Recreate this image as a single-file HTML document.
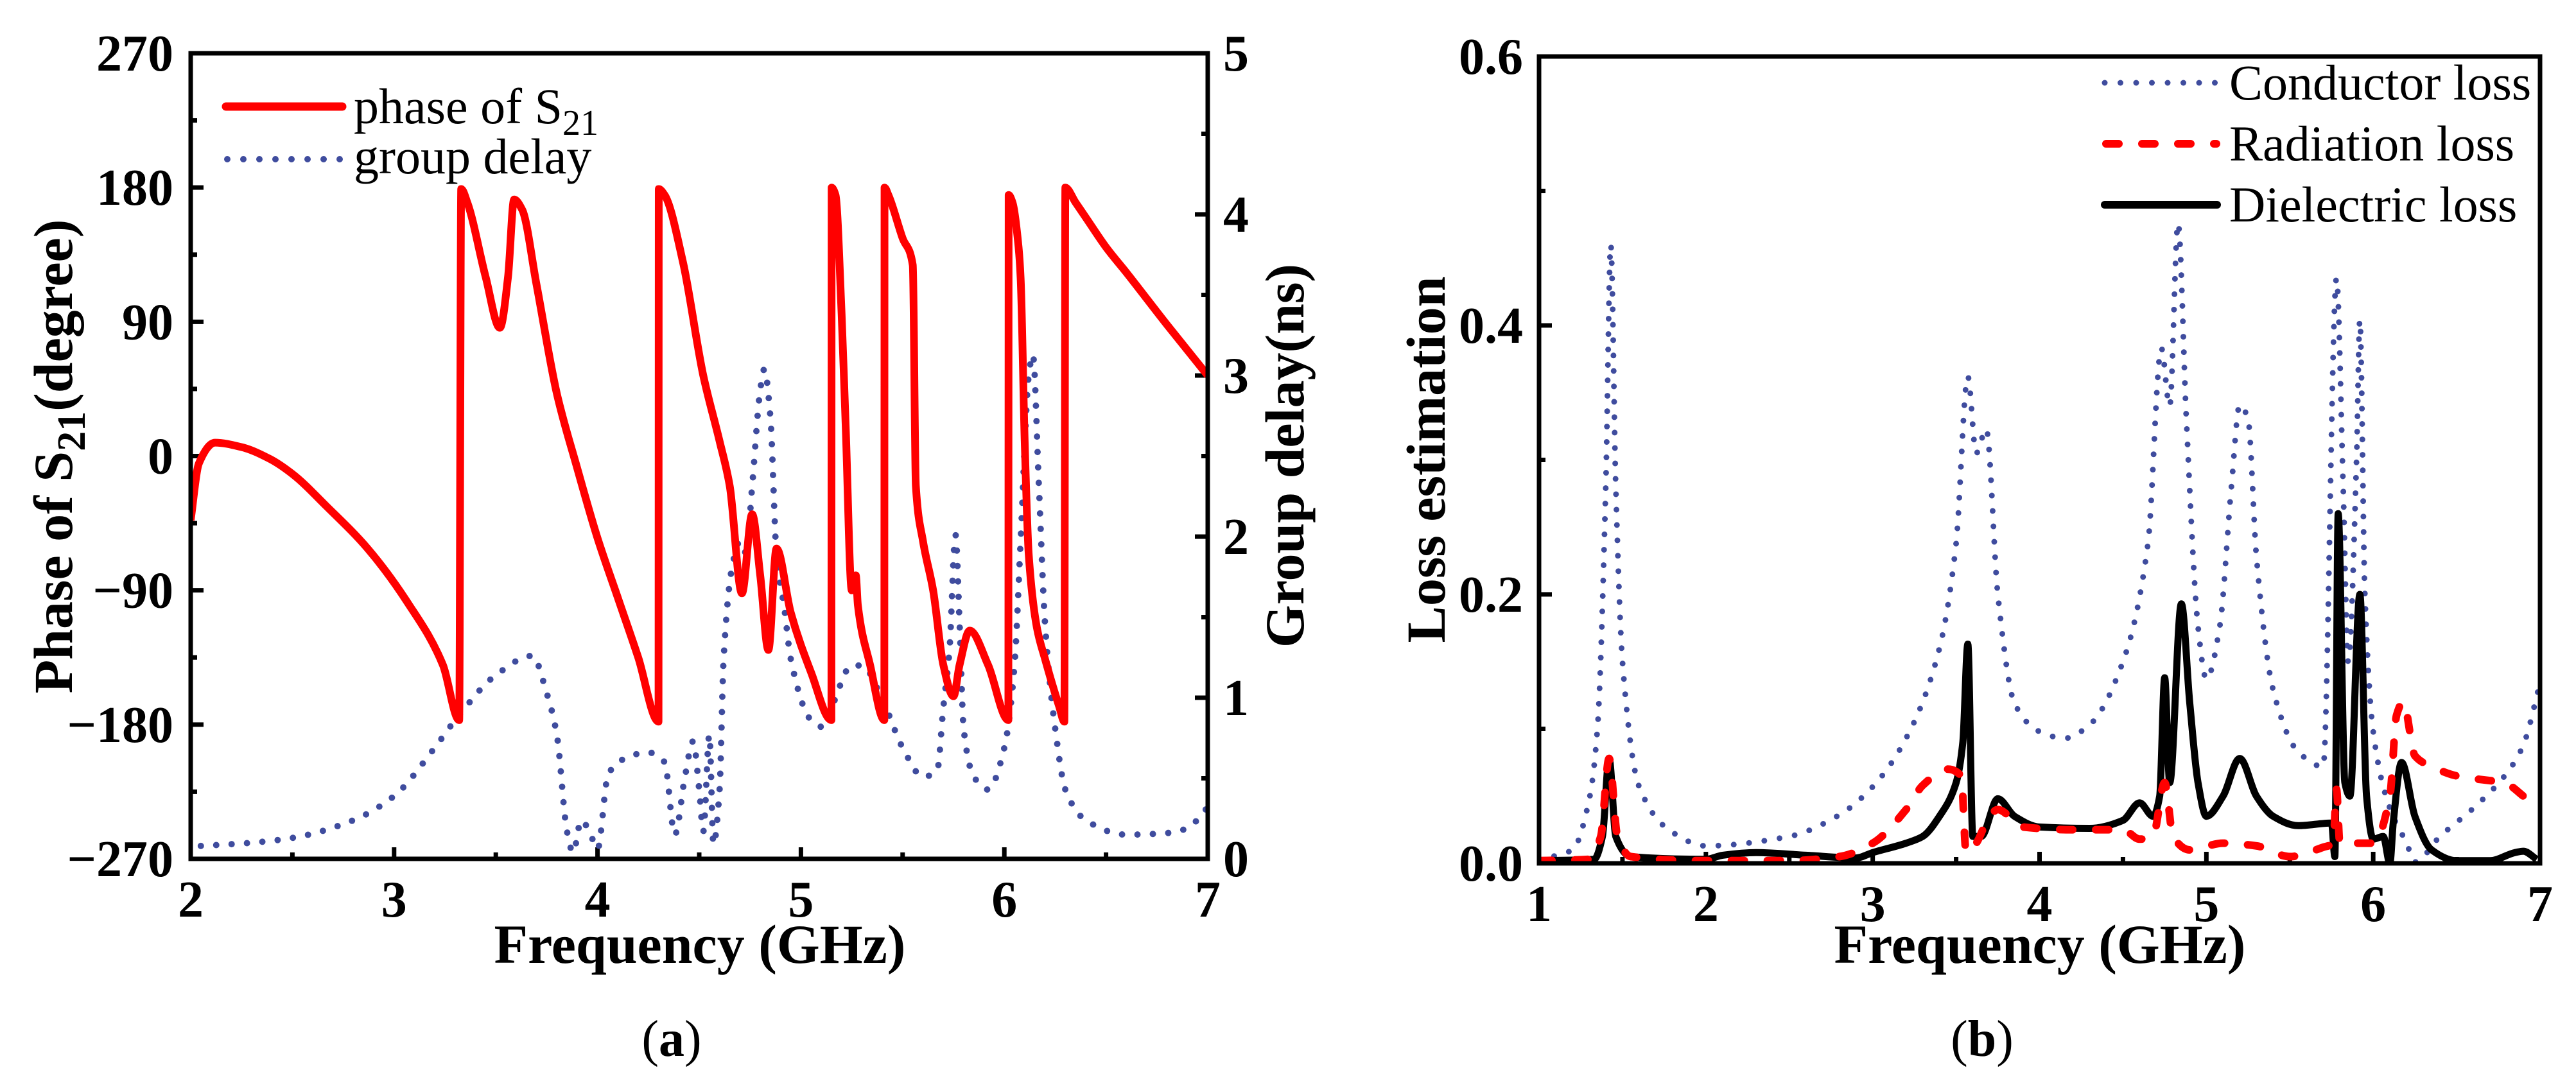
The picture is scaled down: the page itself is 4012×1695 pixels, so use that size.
<!DOCTYPE html>
<html><head><meta charset="utf-8"><style>
html,body{margin:0;padding:0;background:#fff;}
svg{display:block;}
text{font-family:"Liberation Serif","Times New Roman",serif;fill:#000;}
.tk{font-size:80px;font-weight:bold;}
.ttl{font-size:86px;font-weight:bold;}
.lg{font-size:78px;}
</style></head><body>
<svg id="fig" width="4012" height="1695" viewBox="0 0 4012 1695" xmlns="http://www.w3.org/2000/svg">
<defs>
<clipPath id="clipA"><rect x="297" y="83" width="1584" height="1255"/></clipPath>
<clipPath id="clipB"><rect x="2397" y="88" width="1559" height="1257"/></clipPath>
</defs>
<g id="gA"></g>
<g id="gB"></g>
<text x="1046" y="1645" text-anchor="middle" style="font-size:80px">(<tspan font-weight="bold">a</tspan>)</text>
<text x="3087" y="1645" text-anchor="middle" style="font-size:80px">(<tspan font-weight="bold">b</tspan>)</text>
</svg>
<script>
// ---- Chart A data ----
const phaseX=[2.0,2.04,2.12,2.25,2.39,2.5,2.67,2.87,3.07,3.24,3.32,3.33,3.36,3.45,3.52,3.56,3.59,3.63,3.7,3.8,3.9,4.0,4.1,4.2,4.3,4.301,4.33,4.42,4.52,4.6,4.65,4.71,4.76,4.8,4.84,4.88,4.95,5.05,5.15,5.151,5.17,5.2,5.22,5.25,5.27,5.28,5.34,5.41,5.411,5.43,5.5,5.55,5.565,5.6,5.65,5.7,5.75,5.78,5.83,5.92,6.02,6.021,6.04,6.07,6.08,6.1,6.12,6.16,6.2,6.27,6.295,6.3,6.35,6.4,6.5,6.6,6.8,7.0];
const phaseY=[-43,-5,9,6,-2,-12,-34,-62,-99,-140,-177,179,170,120,86,120,172,165,115,42,-8,-55,-95,-135,-178,179,175,130,54,10,-20,-92,-39,-80,-130,-62,-105,-145,-177,180,175,95,20,-90,-80,-100,-140,-177,180,175,146,128,-20,-57,-90,-140,-161,-140,-117,-140,-177,175,170,140,120,10,-66,-115,-136,-168,-178,180,170,160,140,123,88,54];
const delayX=[2.05,2.3,2.5,2.8,3.0,3.2,3.3,3.5,3.68,3.75,3.8,3.85,3.88,3.92,3.96,4.0,4.05,4.1,4.25,4.33,4.38,4.43,4.47,4.5,4.52,4.55,4.57,4.6,4.62,4.66,4.7,4.73,4.76,4.8,4.82,4.85,4.88,4.92,4.95,5.05,5.1,5.15,5.25,5.3,5.4,5.5,5.6,5.67,5.7,5.73,5.76,5.78,5.8,5.85,5.92,6.0,6.05,6.08,6.12,6.14,6.17,6.2,6.25,6.3,6.4,6.6,6.8,6.9,7.0];
const delayY=[0.08,0.1,0.13,0.24,0.39,0.69,0.86,1.14,1.26,1.03,0.77,0.17,0.04,0.24,0.17,0.06,0.51,0.6,0.66,0.6,0.15,0.51,0.73,0.43,0.17,0.77,0.09,0.43,1.24,1.8,1.97,1.9,2.31,2.91,3.04,2.74,1.89,1.54,1.24,0.86,0.82,0.94,1.2,1.2,0.99,0.69,0.51,0.55,0.94,1.29,2.01,1.46,0.81,0.51,0.43,0.69,1.2,1.97,3.0,3.13,2.31,1.46,0.81,0.43,0.24,0.15,0.16,0.19,0.32];
const aXTicks=[2,3,4,5,6,7];
const aYTicks=[-270,-180,-90,0,90,180,270];
const aY2Ticks=[0,1,2,3,4,5];
// ---- Chart B data ----
const condX=[1.0,1.2,1.3,1.35,1.4,1.43,1.46,1.5,1.6,1.8,2.0,2.5,2.8,3.0,3.2,3.4,3.5,3.57,3.62,3.68,3.75,3.85,4.0,4.15,4.3,4.5,4.65,4.73,4.78,4.83,4.88,4.95,5.0,5.08,5.15,5.2,5.25,5.3,5.4,5.55,5.7,5.78,5.82,5.85,5.9,5.92,5.95,6.0,6.1,6.2,6.25,6.4,6.6,6.8,6.9,7.0];
const condY=[0.003,0.01,0.047,0.1,0.28,0.46,0.28,0.15,0.057,0.023,0.013,0.02,0.036,0.057,0.093,0.16,0.238,0.362,0.305,0.323,0.2,0.119,0.098,0.093,0.103,0.15,0.238,0.383,0.34,0.476,0.33,0.176,0.137,0.176,0.28,0.341,0.33,0.228,0.129,0.083,0.072,0.435,0.28,0.15,0.3,0.404,0.2,0.098,0.041,0.015,0.001,0.02,0.041,0.067,0.088,0.134];
const radX=[1.0,1.3,1.37,1.42,1.47,1.55,2.0,2.5,2.8,3.0,3.2,3.3,3.45,3.53,3.56,3.62,3.7,3.75,3.9,4.2,4.5,4.6,4.68,4.75,4.8,4.9,5.1,5.3,5.5,5.7,5.76,5.78,5.8,5.9,6.0,6.1,6.14,6.18,6.25,6.35,6.5,6.8,6.9,7.0];
const radY=[0.002,0.003,0.02,0.078,0.02,0.005,0.002,0.002,0.005,0.015,0.04,0.058,0.07,0.065,0.008,0.015,0.035,0.04,0.027,0.025,0.025,0.018,0.02,0.06,0.02,0.01,0.015,0.013,0.005,0.012,0.015,0.055,0.015,0.015,0.015,0.05,0.11,0.12,0.08,0.072,0.065,0.059,0.05,0.04];
const dielX=[1.0,1.33,1.38,1.42,1.46,1.55,2.0,2.1,2.3,2.6,2.9,3.0,3.2,3.3,3.4,3.5,3.54,3.57,3.6,3.65,3.75,3.85,4.0,4.3,4.5,4.6,4.68,4.72,4.75,4.78,4.85,4.9,4.95,5.0,5.1,5.2,5.3,5.4,5.55,5.75,5.77,5.79,5.83,5.86,5.92,5.96,6.0,6.06,6.1,6.12,6.17,6.25,6.35,6.5,6.7,6.85,6.9,6.98];
const dielY=[0.002,0.003,0.02,0.078,0.02,0.005,0.003,0.006,0.008,0.006,0.004,0.008,0.015,0.02,0.035,0.06,0.09,0.163,0.02,0.02,0.048,0.035,0.027,0.026,0.032,0.045,0.035,0.05,0.138,0.06,0.193,0.12,0.06,0.035,0.05,0.078,0.05,0.035,0.028,0.03,0.005,0.26,0.06,0.05,0.2,0.05,0.018,0.02,0.0,0.03,0.075,0.035,0.01,0.002,0.002,0.008,0.009,0.003];
const bXTicks=[1,2,3,4,5,6,7];
const bYTicks=[0.0,0.2,0.4,0.6];
const bYLabels=["0.0","0.2","0.4","0.6"];

const NS='http://www.w3.org/2000/svg';
function mk(tag,attrs,parent){const e=document.createElementNS(NS,tag);for(const k in attrs)e.setAttribute(k,attrs[k]);parent.appendChild(e);return e;}
function lin(d0,d1,p0,p1){return v=>p0+(v-d0)/(d1-d0)*(p1-p0);}
// monotone cubic (Fritsch-Carlson) path in pixel space
function pathD(xs,ys,fx,fy){
 const px=xs.map(fx), py=ys.map(fy), n=px.length;
 if(n<3) return px.map((x,i)=>(i?'L':'M')+x+','+py[i]).join(' ');
 const d=[],m=new Array(n);
 for(let i=0;i<n-1;i++) d.push((py[i+1]-py[i])/(px[i+1]-px[i]));
 m[0]=d[0];m[n-1]=d[n-2];
 for(let i=1;i<n-1;i++){ if(d[i-1]*d[i]<=0) m[i]=0; else { const h0=px[i]-px[i-1],h1=px[i+1]-px[i]; const w1=2*h1+h0,w2=h1+2*h0; m[i]=(w1+w2)/(w1/d[i-1]+w2/d[i]); } }
 let s='M'+px[0].toFixed(1)+','+py[0].toFixed(1);
 for(let i=0;i<n-1;i++){ const h=(px[i+1]-px[i])/3;
  s+=' C'+(px[i]+h).toFixed(1)+','+(py[i]+m[i]*h).toFixed(1)+' '+(px[i+1]-h).toFixed(1)+','+(py[i+1]-m[i+1]*h).toFixed(1)+' '+px[i+1].toFixed(1)+','+py[i+1].toFixed(1); }
 return s;
}

// ===== Chart A =====
const gA=document.getElementById('gA');
const AL=297,AR=1881,AT=83,AB=1338;
const ax=lin(2,7,AL,AR), ay=lin(-270,270,AB,AT), ay2=lin(0,5,AB,AT);
aXTicks.forEach(v=>{
 const t=mk('line',{x1:ax(v),x2:ax(v),y1:AB,y2:AB-18,stroke:'#000','stroke-width':7},gA);
 
 const l=mk('text',{x:ax(v),y:AB+90,'text-anchor':'middle',class:'tk'},gA);l.textContent=v;
 
 if(v<7){const m=mk('line',{x1:ax(v+0.5),x2:ax(v+0.5),y1:AB,y2:AB-10,stroke:'#000','stroke-width':7},gA);
 }
});
aYTicks.forEach(v=>{
 const t=mk('line',{x1:AL,x2:AL+20,y1:ay(v),y2:ay(v),stroke:'#000','stroke-width':7},gA);
 
 const l=mk('text',{x:270,y:ay(v)+27,'text-anchor':'end',class:'tk'},gA);l.textContent=(v<0?'\u2212'+(-v):v);
 
 if(v<270){const m=mk('line',{x1:AL,x2:AL+10,y1:ay(v+45),y2:ay(v+45),stroke:'#000','stroke-width':7},gA);
 }
});
aY2Ticks.forEach(v=>{
 const t=mk('line',{x1:AR,x2:AR-20,y1:ay2(v),y2:ay2(v),stroke:'#000','stroke-width':7},gA);
 
 const l=mk('text',{x:1905,y:ay2(v)+27,'text-anchor':'start',class:'tk'},gA);l.textContent=v;
 
 if(v<5){const m=mk('line',{x1:AR,x2:AR-10,y1:ay2(v+0.5),y2:ay2(v+0.5),stroke:'#000','stroke-width':7},gA);
 }
});
const cA=mk('g',{'clip-path':'url(#clipA)'},gA);

const dl=mk('path',{d:pathD(delayX,delayY,ax,ay2),fill:'none',stroke:'#3f4c9e','stroke-width':10,'stroke-linecap':'round','stroke-dasharray':'0 24'},cA);

const ph=mk('path',{d:pathD(phaseX,phaseY,ax,ay),fill:'none',stroke:'#ff0000','stroke-width':12,'stroke-linejoin':'round'},cA);

const frA=mk('rect',{x:AL,y:AT,width:AR-AL,height:AB-AT,fill:'none',stroke:'#000','stroke-width':7},gA);

const lgA=mk('g',{},gA);
const l1=mk('line',{x1:352,x2:533,y1:166,y2:166,stroke:'#ff0000','stroke-width':13,'stroke-linecap':'round'},lgA);

const t1=mk('text',{x:551,y:192,class:'lg'},lgA);t1.innerHTML='phase of S<tspan dy="18" style="font-size:56px">21</tspan>';

const l2=mk('line',{x1:354,x2:530,y1:248,y2:248,stroke:'#3f4c9e','stroke-width':10,'stroke-linecap':'round','stroke-dasharray':'0 25'},lgA);

const t2=mk('text',{x:551,y:270,class:'lg'},lgA);t2.textContent='group delay';

const xtA=mk('text',{x:1090,y:1500,'text-anchor':'middle',class:'ttl'},gA);xtA.textContent='Frequency (GHz)';

const ytA=mk('text',{x:0,y:0,'text-anchor':'middle',class:'ttl',transform:'translate(112,711) rotate(-90)'},gA);
ytA.innerHTML='Phase of S<tspan dy="20" style="font-size:62px">21</tspan><tspan dy="-20">(degree)</tspan>';

const y2tA=mk('text',{x:0,y:0,'text-anchor':'middle',class:'ttl',transform:'translate(2030,710) rotate(-90)'},gA);
y2tA.textContent='Group delay(ns)';


// ===== Chart B =====
const gB=document.getElementById('gB');
const BL=2397,BR=3956,BT=88,BB=1345;
const bx=lin(1,7,BL,BR), by=lin(0,0.6,BB,BT);
bXTicks.forEach(v=>{
 const t=mk('line',{x1:bx(v),x2:bx(v),y1:BB,y2:BB-18,stroke:'#000','stroke-width':7},gB);
 
 const l=mk('text',{x:bx(v),y:BB+90,'text-anchor':'middle',class:'tk'},gB);l.textContent=v;
 
 if(v<7){const m=mk('line',{x1:bx(v+0.5),x2:bx(v+0.5),y1:BB,y2:BB-10,stroke:'#000','stroke-width':7},gB);
 }
});
bYTicks.forEach((v,i)=>{
 const t=mk('line',{x1:BL,x2:BL+20,y1:by(v),y2:by(v),stroke:'#000','stroke-width':7},gB);
 
 const l=mk('text',{x:2372,y:by(v)+27,'text-anchor':'end',class:'tk'},gB);l.textContent=bYLabels[i];
 
 if(i<bYTicks.length-1){const m=mk('line',{x1:BL,x2:BL+10,y1:by(v+0.1),y2:by(v+0.1),stroke:'#000','stroke-width':7},gB);
 }
});
const cB=mk('g',{'clip-path':'url(#clipB)'},gB);

const cl=mk('path',{d:pathD(condX,condY,bx,by),fill:'none',stroke:'#3f4c9e','stroke-width':9,'stroke-linecap':'round','stroke-dasharray':'0 24'},cB);

const dil=mk('path',{d:pathD(dielX,dielY,bx,by),fill:'none',stroke:'#000','stroke-width':11,'stroke-linejoin':'round'},cB);

const rl=mk('path',{d:pathD(radX,radY,bx,by),fill:'none',stroke:'#ff0000','stroke-width':12,'stroke-linecap':'round','stroke-dasharray':'20 36'},cB);

const frB=mk('rect',{x:BL,y:BT,width:BR-BL,height:BB-BT,fill:'none',stroke:'#000','stroke-width':7},gB);

const lgB=mk('g',{},gB);
const s1=mk('line',{x1:3278,x2:3450,y1:129,y2:129,stroke:'#3f4c9e','stroke-width':9,'stroke-linecap':'round','stroke-dasharray':'0 24.5'},lgB);

const s2=mk('line',{x1:3280,x2:3452,y1:224,y2:224,stroke:'#ff0000','stroke-width':12,'stroke-linecap':'round','stroke-dasharray':'20 36'},lgB);

const s3=mk('line',{x1:3278,x2:3453,y1:319,y2:319,stroke:'#000','stroke-width':12,'stroke-linecap':'round'},lgB);

const tb1=mk('text',{x:3472,y:155,class:'lg'},lgB);tb1.textContent='Conductor loss';

const tb2=mk('text',{x:3472,y:250,class:'lg'},lgB);tb2.textContent='Radiation loss';

const tb3=mk('text',{x:3472,y:345,class:'lg'},lgB);tb3.textContent='Dielectric loss';

const xtB=mk('text',{x:3177,y:1500,'text-anchor':'middle',class:'ttl'},gB);xtB.textContent='Frequency (GHz)';

const ytB=mk('text',{x:0,y:0,'text-anchor':'middle',class:'ttl',transform:'translate(2250,716) rotate(-90)'},gB);
ytB.textContent='Loss estimation';

</script>
</body></html>
